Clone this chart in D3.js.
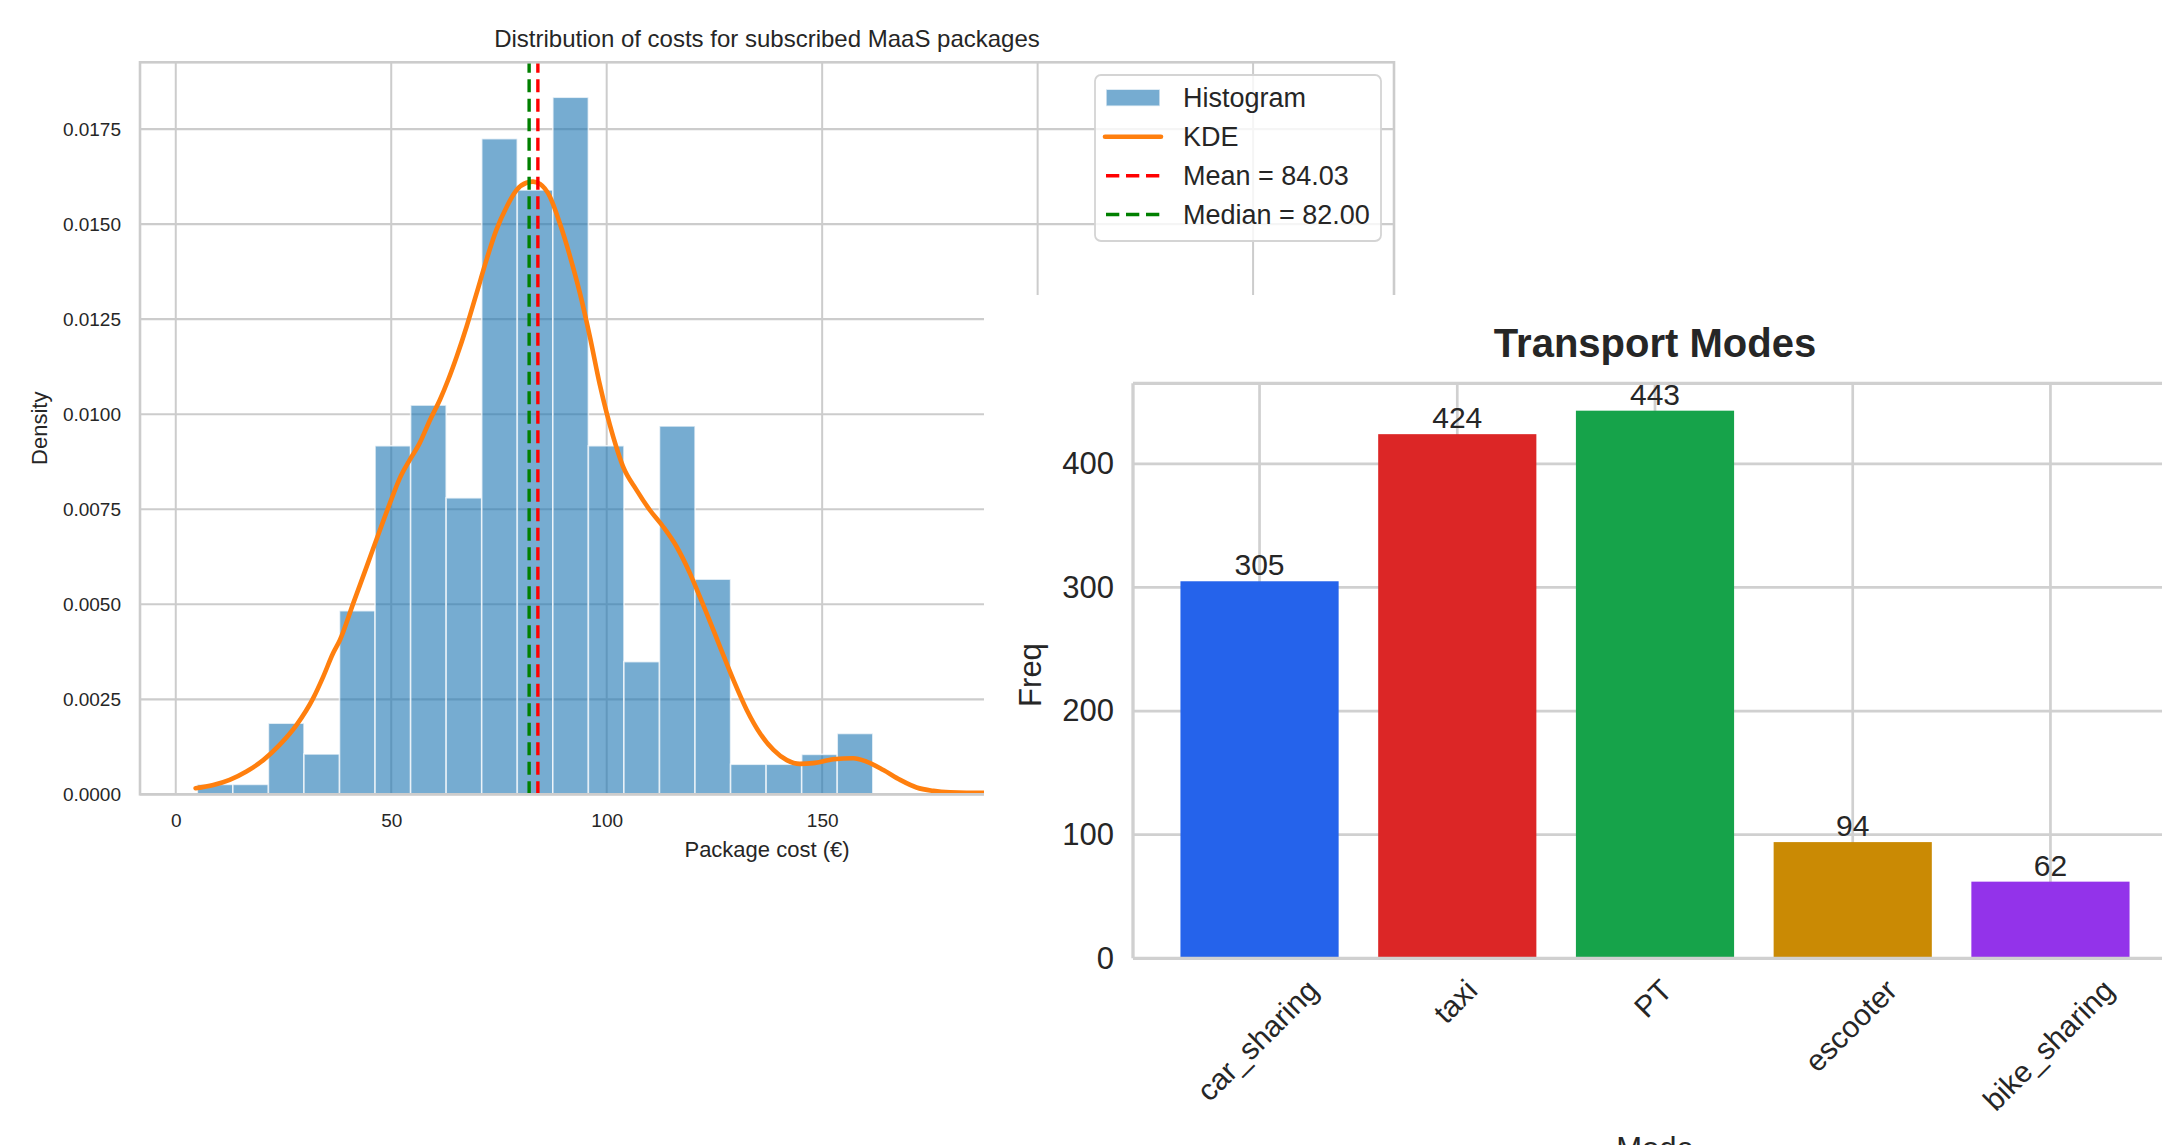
<!DOCTYPE html>
<html><head><meta charset="utf-8">
<script src="https://cdn.jsdelivr.net/npm/d3@7"></script>
<style>
body{margin:0;background:#fff;}
svg{display:block;}
text{font-family:"Liberation Sans",Arial,sans-serif;fill:#262626;}
</style>
</head><body>
<svg id="c" width="2162" height="1145"></svg>
<script>
// ---------- Left chart data: Distribution of costs ----------
const binEdges = [5, 13.25, 21.5, 29.75, 38, 46.25, 54.5, 62.75, 71, 79.25, 87.5, 95.75, 104, 112.25, 120.5, 128.75, 137, 145.25, 153.5, 161.75];
const binDensity = [0.00026, 0.00026, 0.00187, 0.00106, 0.00483, 0.00917, 0.01024, 0.0078, 0.01725, 0.0159, 0.01834, 0.00917, 0.00349, 0.00969, 0.00566, 0.00079, 0.00079, 0.00105, 0.0016];
const kdeX = [4.6, 8.7, 12.5, 16.4, 20.3, 24.1, 28.0, 31.9, 34.2, 36.5, 38.1, 41.2, 44.3, 47.4, 49.7, 52.0, 54.3, 56.6, 59.0, 61.3, 63.2, 65.2, 67.5, 69.8, 72.1, 74.4, 76.8, 79.1, 81.4, 82.9, 84.5, 86.8, 89.1, 91.5, 93.8, 96.1, 98.4, 101.5, 103.8, 106.9, 110.0, 113.1, 116.2, 119.3, 121.6, 123.2, 126.3, 129.4, 132.5, 135.6, 138.7, 141.8, 144.8, 147.9, 152.6, 157.2, 160.3, 164.2, 168.1, 171.9, 175.8, 179.7, 183.5, 187.6];
const kdeY = [0.00016, 0.000245, 0.00038, 0.0006, 0.0009, 0.0013, 0.00182, 0.00253, 0.00309, 0.00371, 0.00406, 0.00503, 0.00599, 0.00696, 0.00766, 0.00832, 0.0088, 0.00924, 0.00985, 0.01038, 0.0109, 0.01152, 0.01231, 0.01318, 0.01406, 0.01485, 0.01546, 0.0159, 0.01609, 0.01612, 0.01606, 0.01573, 0.01503, 0.01415, 0.01318, 0.01204, 0.01078, 0.00941, 0.00862, 0.00801, 0.00748, 0.00704, 0.00652, 0.00582, 0.0052, 0.00476, 0.00388, 0.00301, 0.00222, 0.0016, 0.00117, 0.0009, 0.0008, 0.00082, 0.00092, 0.00095, 0.00086, 0.00064, 0.00038, 0.00018, 0.00009, 0.00005, 0.00004, 0.00004];
const meanCost = 84.03;
const medianCost = 82.00;
const costTicks = [0, 50, 100, 150, 200, 250];
const densityTicks = [0, 0.0025, 0.005, 0.0075, 0.01, 0.0125, 0.015, 0.0175];
const legendLabels = ["Histogram", "KDE", "Mean = 84.03", "Median = 82.00"];

// ---------- Right chart data: Transport Modes ----------
const modes = ["car_sharing", "taxi", "PT", "escooter", "bike_sharing"];
const modeFreq = [305, 424, 443, 94, 62];
const modeColors = ["#2563eb", "#dc2626", "#16a34a", "#ca8a04", "#9333ea"];
const freqTicks = [0, 100, 200, 300, 400];

const svg = d3.select("#c");
const GRID = "#cccccc";

// ================= LEFT CHART =================
const L = {left: 140, right: 1394, top: 62.3, bottom: 794.3};
const x1 = d3.scaleLinear().domain([-8.3, 282.7]).range([L.left, L.right]);
const y1 = d3.scaleLinear().domain([0, 0.01926]).range([L.bottom, L.top]);
const g1 = svg.append("g");

g1.append("g").selectAll("line").data(costTicks).join("line")
  .attr("x1", d => x1(d)).attr("x2", d => x1(d))
  .attr("y1", L.top).attr("y2", L.bottom)
  .attr("stroke", GRID).attr("stroke-width", 2);
g1.append("g").selectAll("line").data(densityTicks).join("line")
  .attr("x1", L.left).attr("x2", L.right)
  .attr("y1", d => y1(d)).attr("y2", d => y1(d))
  .attr("stroke", GRID).attr("stroke-width", 2.2);

// histogram bars
g1.append("g").selectAll("rect").data(binDensity).join("rect")
  .attr("x", (d, i) => x1(binEdges[i]))
  .attr("width", (d, i) => x1(binEdges[i + 1]) - x1(binEdges[i]))
  .attr("y", d => y1(d))
  .attr("height", d => y1(0) - y1(d))
  .attr("fill", "#1f77b4").attr("fill-opacity", 0.61)
  .attr("stroke", "#ffffff").attr("stroke-opacity", 0.7).attr("stroke-width", 1.6);

// KDE
const kdePts = kdeX.map((v, i) => [v, kdeY[i]]);
g1.append("path").datum(kdePts)
  .attr("d", d3.line().x(d => x1(d[0])).y(d => y1(d[1])).curve(d3.curveMonotoneX))
  .attr("fill", "none").attr("stroke", "#ff7f0e").attr("stroke-width", 4.6)
  .attr("stroke-linecap", "round").attr("stroke-linejoin", "round");

// mean / median
[[meanCost, "#ff0000"], [medianCost, "#008000"]].forEach(([v, c]) => {
  g1.append("line")
    .attr("x1", x1(v)).attr("x2", x1(v))
    .attr("y1", L.bottom).attr("y2", L.top)
    .attr("stroke", c).attr("stroke-width", 3.4).attr("stroke-dasharray", "13 6.5");
});

// spines
g1.append("rect").attr("x", L.left).attr("y", L.top)
  .attr("width", L.right - L.left).attr("height", L.bottom - L.top)
  .attr("fill", "none").attr("stroke", GRID).attr("stroke-width", 2.6);

// axes
const ay1 = g1.append("g").attr("transform", `translate(${L.left},0)`)
  .call(d3.axisLeft(y1).tickValues(densityTicks).tickFormat(d3.format(".4f")).tickSize(0).tickPadding(19));
ay1.select(".domain").remove();
ay1.selectAll("text").attr("font-size", 19).attr("fill", "#262626")
  .style("font-family", '"Liberation Sans",Arial,sans-serif');

const ax1 = g1.append("g").attr("transform", `translate(0,${L.bottom})`)
  .call(d3.axisBottom(x1).tickValues(costTicks).tickFormat(d3.format("d")).tickSize(0).tickPadding(19));
ax1.select(".domain").remove();
ax1.selectAll("text").attr("font-size", 19).attr("fill", "#262626")
  .style("font-family", '"Liberation Sans",Arial,sans-serif');

g1.append("text").attr("x", (L.left + L.right) / 2).attr("y", 46.5)
  .attr("text-anchor", "middle").attr("font-size", 24)
  .text("Distribution of costs for subscribed MaaS packages");
g1.append("text").attr("x", (L.left + L.right) / 2).attr("y", 857)
  .attr("text-anchor", "middle").attr("font-size", 22)
  .text("Package cost (€)");
g1.append("text").attr("transform", `translate(47,${(L.top + L.bottom) / 2}) rotate(-90)`)
  .attr("text-anchor", "middle").attr("font-size", 22)
  .text("Density");

// legend
const lg = g1.append("g");
lg.append("rect").attr("x", 1095).attr("y", 75).attr("width", 286).attr("height", 166)
  .attr("rx", 6).attr("fill", "#ffffff").attr("fill-opacity", 0.8)
  .attr("stroke", "#d4d4d4").attr("stroke-width", 1.8);
const rowY = [97.7, 136.7, 175.7, 214.5];
lg.append("rect").attr("x", 1106).attr("y", rowY[0] - 8.5).attr("width", 54).attr("height", 17)
  .attr("fill", "#1f77b4").attr("fill-opacity", 0.61)
  .attr("stroke", "#ffffff").attr("stroke-opacity", 0.7).attr("stroke-width", 1.6);
lg.append("line").attr("x1", 1105).attr("x2", 1161).attr("y1", rowY[1]).attr("y2", rowY[1])
  .attr("stroke", "#ff7f0e").attr("stroke-width", 4.6).attr("stroke-linecap", "round");
lg.append("line").attr("x1", 1106).attr("x2", 1160).attr("y1", rowY[2]).attr("y2", rowY[2])
  .attr("stroke", "#ff0000").attr("stroke-width", 3.4).attr("stroke-dasharray", "13.3 6.7");
lg.append("line").attr("x1", 1106).attr("x2", 1160).attr("y1", rowY[3]).attr("y2", rowY[3])
  .attr("stroke", "#008000").attr("stroke-width", 3.4).attr("stroke-dasharray", "13.3 6.7");
lg.selectAll("text.lt").data(legendLabels).join("text").attr("class", "lt")
  .attr("x", 1183).attr("y", (d, i) => rowY[i] + 9.5)
  .attr("font-size", 27).text(d => d);

// ================= OVERLAY (right chart pasted over) =================
svg.append("rect").attr("x", 984).attr("y", 295)
  .attr("width", 2162 - 984).attr("height", 1145 - 295).attr("fill", "#ffffff");

// ================= RIGHT CHART =================
const R = {left: 1133, right: 2177, top: 383.3, bottom: 958.3};
const x2 = d3.scaleBand().domain(modes).range([R.left, R.right]).paddingInner(0.2).paddingOuter(0.24);
const y2 = d3.scaleLinear().domain([0, 465.15]).range([R.bottom, R.top]);
const g2 = svg.append("g");

g2.append("g").selectAll("line").data(modes).join("line")
  .attr("x1", d => x2(d) + x2.bandwidth() / 2).attr("x2", d => x2(d) + x2.bandwidth() / 2)
  .attr("y1", R.top).attr("y2", R.bottom)
  .attr("stroke", "#d0d0d0").attr("stroke-width", 2.7);
g2.append("g").selectAll("line").data(freqTicks).join("line")
  .attr("x1", R.left).attr("x2", R.right)
  .attr("y1", d => y2(d)).attr("y2", d => y2(d))
  .attr("stroke", "#d0d0d0").attr("stroke-width", 2.7);

g2.append("g").selectAll("rect").data(modeFreq).join("rect")
  .attr("x", (d, i) => x2(modes[i]))
  .attr("width", x2.bandwidth())
  .attr("y", d => y2(d))
  .attr("height", d => y2(0) - y2(d))
  .attr("fill", (d, i) => modeColors[i]);

// spines
g2.append("line").attr("x1", R.left).attr("x2", R.left).attr("y1", R.top).attr("y2", R.bottom)
  .attr("stroke", "#d0d0d0").attr("stroke-width", 3.3);
g2.append("line").attr("x1", R.left).attr("x2", R.right).attr("y1", R.top).attr("y2", R.top)
  .attr("stroke", "#d0d0d0").attr("stroke-width", 3.3);
g2.append("line").attr("x1", R.left).attr("x2", R.right).attr("y1", R.bottom).attr("y2", R.bottom)
  .attr("stroke", "#d0d0d0").attr("stroke-width", 3.3);

// value labels
g2.append("g").selectAll("text").data(modeFreq).join("text")
  .attr("x", (d, i) => x2(modes[i]) + x2.bandwidth() / 2)
  .attr("y", d => y2(d) - 6)
  .attr("text-anchor", "middle").attr("font-size", 30).attr("fill", "#333333")
  .text(d => d);

// y axis
const ay2 = g2.append("g").attr("transform", `translate(${R.left},0)`)
  .call(d3.axisLeft(y2).tickValues(freqTicks).tickFormat(d3.format("d")).tickSize(0).tickPadding(19));
ay2.select(".domain").remove();
ay2.selectAll("text").attr("font-size", 31).attr("fill", "#333333")
  .style("font-family", '"Liberation Sans",Arial,sans-serif');

// x tick labels rotated 45 (centered bounding box)
const fs = 30, topY = 977;
modes.forEach(m => {
  const t = g2.append("text").attr("font-size", fs).attr("text-anchor", "middle")
    .attr("fill", "#333333").text(m);
  const w = t.node().getComputedTextLength();
  const h = 0.93 * fs;
  const half = (w + h) / Math.SQRT2 / 2;
  const cx = x2(m) + x2.bandwidth() / 2;
  t.attr("transform", `translate(${cx},${topY + half}) rotate(-45) translate(0,${0.255 * fs})`);
});

g2.append("text").attr("x", 1655).attr("y", 357)
  .attr("text-anchor", "middle").attr("font-size", 40).attr("font-weight", "bold")
  .text("Transport Modes");
g2.append("text").attr("transform", "translate(1041,675) rotate(-90)")
  .attr("text-anchor", "middle").attr("font-size", 31).attr("fill", "#333333").text("Freq");
g2.append("text").attr("x", 1655).attr("y", 1159)
  .attr("text-anchor", "middle").attr("font-size", 31).attr("fill", "#333333").text("Mode");
</script>
</body></html>
